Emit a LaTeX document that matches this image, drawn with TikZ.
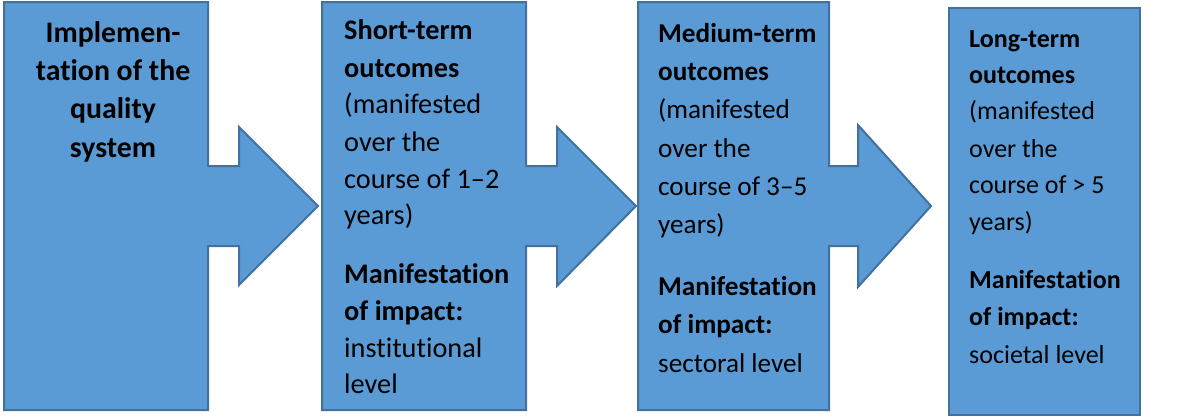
\documentclass[tikz,border=0pt]{standalone}
\usepackage{fontspec}
\setmainfont{Carlito}[Ligatures={NoCommon}]
\definecolor{fillb}{HTML}{5B9BD5}
\definecolor{edgeb}{HTML}{41719C}
\begin{document}
\begin{tikzpicture}[x=1pt,y=-1pt,
  shapebox/.style={fill=fillb,draw=edgeb,line width=2pt,line join=miter},
  ta/.style={anchor=base,inner sep=0pt,font=\fontsize{29.8}{32}\selectfont\bfseries},
  tb/.style={anchor=base west,inner sep=0pt,font=\fontsize{28.3}{32}\selectfont},
  tc/.style={anchor=base west,inner sep=0pt,font=\fontsize{27.2}{32}\selectfont},
  td/.style={anchor=base west,inner sep=0pt,font=\fontsize{26.0}{32}\selectfont}]
\useasboundingbox (0,0) rectangle (1189,416);
% shapes
\draw[shapebox] (4,2) -- (208,2) -- (208,166) -- (239,166) -- (239,127) -- (318,206) -- (239,285) -- (239,246) -- (208,246) -- (208,410) -- (4,410) -- cycle;
\draw[shapebox] (322,2) -- (526,2) -- (526,166) -- (557,166) -- (557,127) -- (636,206) -- (557,286) -- (557,246) -- (526,246) -- (526,410) -- (322,410) -- cycle;
\draw[shapebox] (638,2) -- (829,2) -- (829,166) -- (858,166) -- (858,125) -- (931,206) -- (858,287) -- (858,246) -- (829,246) -- (829,410) -- (638,410) -- cycle;
\draw[shapebox] (949,8) rectangle (1140,415);
% box 1
\node[ta] (a1) at (113,42) {Implemen-};
\node[ta] (a2) at (113,80) {tation of the};
\node[ta] (a3) at (113,118) {quality};
\node[ta] (a4) at (113,157) {system};
% box 2
\node[tb] (b1) at (344,39) {\bfseries Short-term};
\node[tb] (b2) at (344,77) {\bfseries outcomes};
\node[tb] (b3) at (344,113) {(manifested};
\node[tb] (b4) at (344,151) {over the};
\node[tb] (b5) at (344,188) {course of 1–2};
\node[tb] (b6) at (344,224) {years)};
\node[tb] (b7) at (344,283) {\bfseries Manifestation};
\node[tb] (b8) at (344,320) {\bfseries of impact:};
\node[tb] (b9) at (344,357) {institutional};
\node[tb] (b10) at (344,393) {level};
% box 3
\node[tc] (c1) at (658,42) {\bfseries Medium-term};
\node[tc] (c2) at (658,80) {\bfseries outcomes};
\node[tc] (c3) at (658,118) {(manifested};
\node[tc] (c4) at (658,157) {over the};
\node[tc] (c5) at (658,195) {course of 3–5};
\node[tc] (c6) at (658,233) {years)};
\node[tc] (c7) at (658,295) {\bfseries Manifestation};
\node[tc] (c8) at (658,333) {\bfseries of impact:};
\node[tc] (c9) at (658,372) {sectoral level};
% box 4
\node[td] (d1) at (969,47) {\bfseries Long-term};
\node[td] (d2) at (969,83) {\bfseries outcomes};
\node[td] (d3) at (969,119) {(manifested};
\node[td] (d4) at (969,157) {over the};
\node[td] (d5) at (969,193) {course of > 5};
\node[td] (d6) at (969,230) {years)};
\node[td] (d7) at (969,288) {\bfseries Manifestation};
\node[td] (d8) at (969,325) {\bfseries of impact:};
\node[td] (d9) at (969,363) {societal level};
\end{tikzpicture}
\end{document}
